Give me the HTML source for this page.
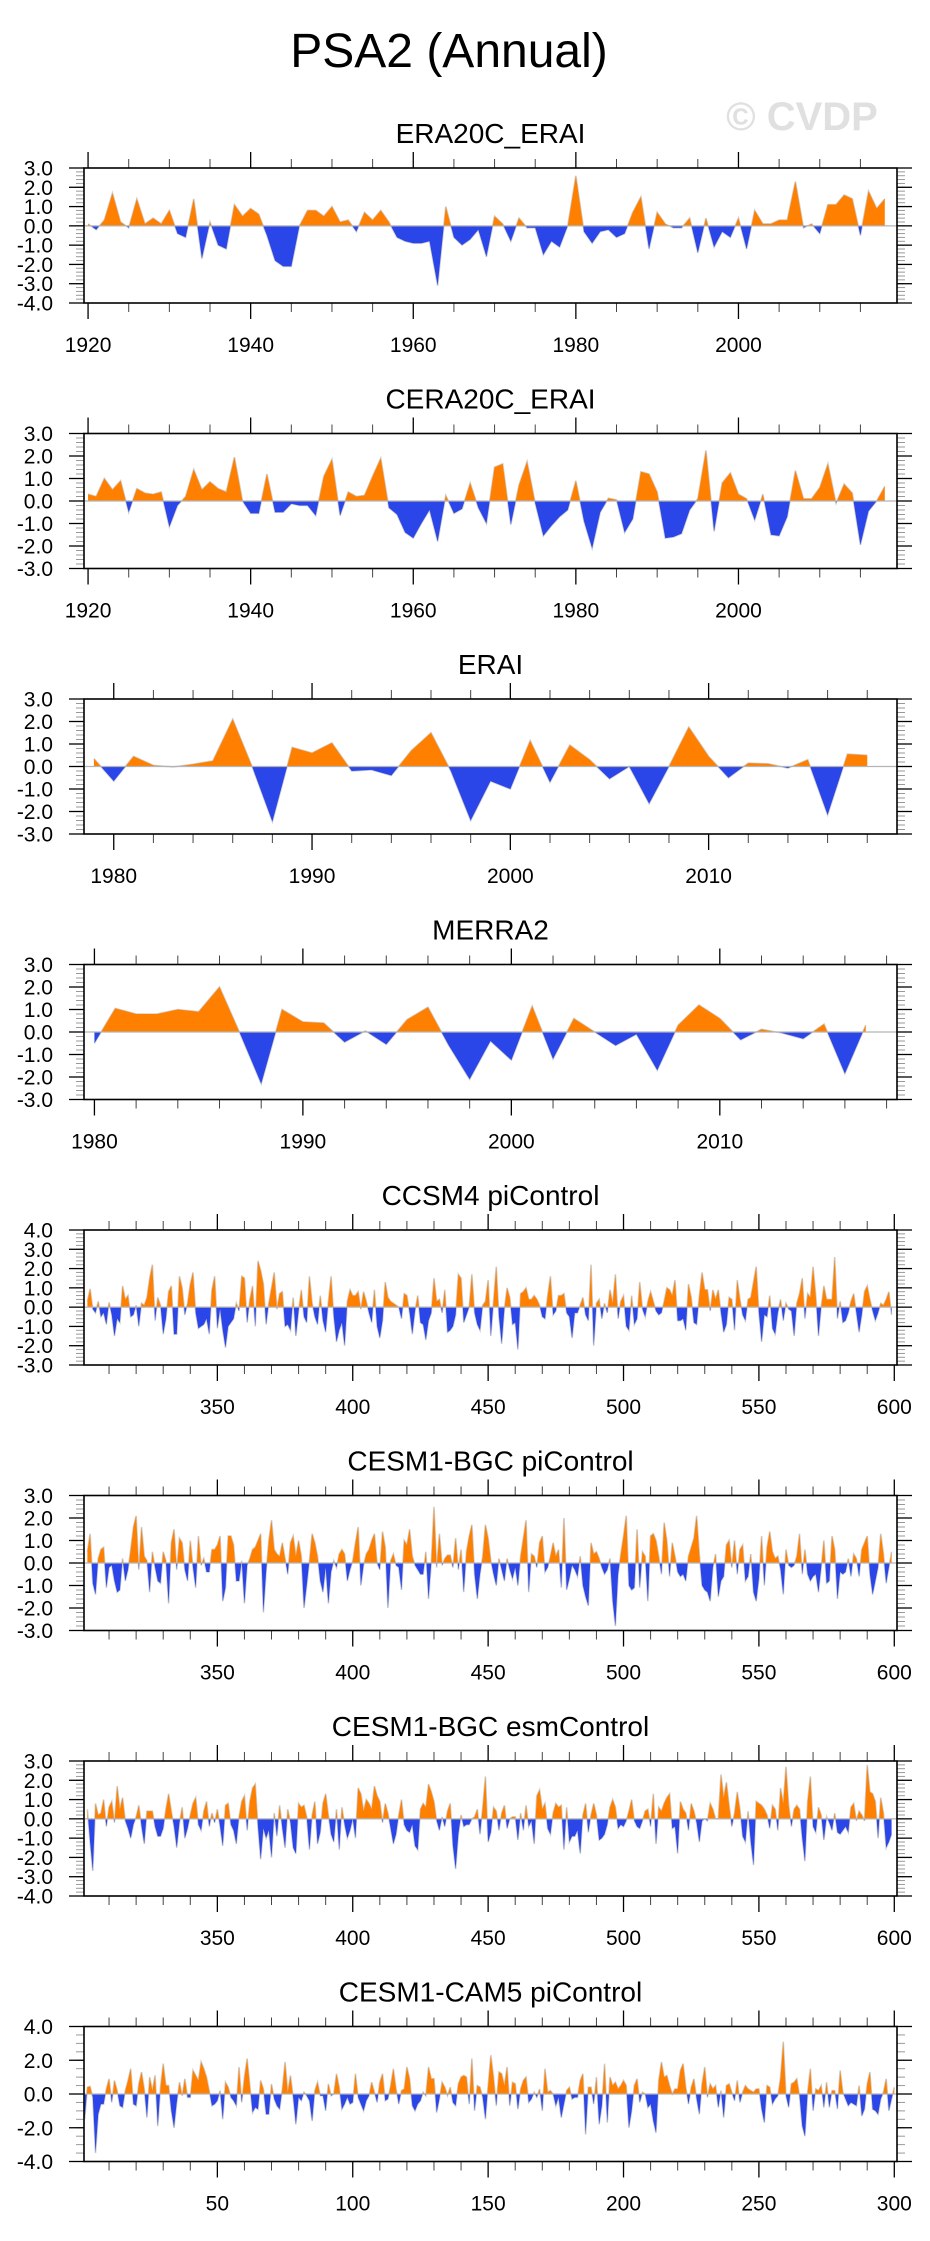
<!DOCTYPE html>
<html><head><meta charset="utf-8"><title>PSA2 (Annual)</title>
<style>
html,body{margin:0;padding:0;background:#fff;}
svg{display:block;font-family:"Liberation Sans",Arial,sans-serif;}
</style></head>
<body>
<svg id="chart" width="930" height="2241" viewBox="0 0 930 2241" xmlns="http://www.w3.org/2000/svg">
<text x="449" y="67" font-size="48" text-anchor="middle" fill="#000">PSA2 (Annual)</text>
<text x="802" y="130" font-size="40" font-weight="bold" text-anchor="middle" fill="#e0e0e0">© CVDP</text>
<g id="panels"></g>
</svg>
<script>
// ---- data ----
const era20cVals=[0.1,-0.2,0.3,1.7,0.2,-0.1,1.4,0.1,0.4,0.1,0.8,-0.4,-0.6,1.4,-1.7,0.2,-1.0,-1.2,1.1,0.5,0.9,0.6,-0.5,-1.8,-2.1,-2.1,0.0,0.8,0.8,0.5,1.0,0.2,0.3,-0.3,0.7,0.3,0.8,0.2,-0.6,-0.8,-0.9,-0.9,-0.8,-3.1,1.0,-0.6,-1.0,-0.7,-0.2,-1.6,0.5,0.1,-0.8,0.4,-0.1,-0.1,-1.5,-0.8,-1.1,0.0,2.6,-0.3,-0.9,-0.3,-0.2,-0.6,-0.4,0.7,1.5,-1.2,0.7,0.1,-0.1,-0.1,0.4,-1.4,0.4,-1.1,-0.3,-0.6,0.4,-1.2,0.8,0.1,0.1,0.3,0.3,2.3,-0.1,0.1,-0.4,1.1,1.1,1.6,1.4,-0.5,1.8,0.9,1.4];
const cera20cVals=[0.3,0.2,1.0,0.5,0.9,-0.5,0.55,0.35,0.3,0.4,-1.15,-0.2,0.2,1.4,0.5,0.85,0.55,0.4,1.95,0.0,-0.55,-0.55,1.2,-0.5,-0.5,-0.12,-0.2,-0.2,-0.65,1.1,1.85,-0.65,0.4,0.2,0.25,1.1,1.9,-0.3,-0.6,-1.4,-1.65,-1.0,-0.4,-1.8,0.25,-0.55,-0.35,0.8,-0.3,-1.0,1.5,1.65,-1.05,0.7,1.75,-0.1,-1.55,-1.1,-0.7,-0.4,0.9,-0.9,-2.1,-0.5,0.12,0.05,-1.4,-0.8,1.3,1.2,0.4,-1.65,-1.6,-1.45,-0.4,0.1,2.25,-1.35,0.8,1.25,0.3,0.1,-0.85,0.3,-1.5,-1.55,-0.7,1.35,0.1,0.1,0.6,1.65,-0.1,0.75,0.35,-1.95,-0.45,0.0,0.65];
const eraiVals=[0.35,-0.65,0.45,0.05,-0.02,0.1,0.25,2.1,-0.05,-2.45,0.85,0.6,1.05,-0.2,-0.15,-0.4,0.7,1.5,-0.2,-2.4,-0.65,-1.0,1.15,-0.7,0.95,0.3,-0.55,0.0,-1.65,0.0,1.75,0.45,-0.5,0.15,0.12,-0.07,0.3,-2.15,0.55,0.5];
const merra2Vals=[-0.5,1.05,0.8,0.8,1.0,0.9,2.0,-0.1,-2.3,1.0,0.45,0.4,-0.45,0.05,-0.55,0.55,1.1,-0.6,-2.1,-0.4,-1.25,1.15,-1.2,0.6,0.0,-0.6,-0.1,-1.7,0.3,1.2,0.6,-0.35,0.12,-0.05,-0.3,0.35,-1.85,0.3];
const ccsm4Vals=[0.3,0.95,-0.1,-0.3,0.3,-0.5,-0.3,-0.9,0.25,-0.4,-1.5,-0.6,-0.8,1.1,0.4,0.6,-0.5,-0.4,0.1,-1.0,0.2,0.1,0.5,1.5,2.2,-0.7,0.5,0.1,-1.4,-0.6,0.8,1.1,-1.4,-1.4,1.6,1.0,-0.4,0.2,1.2,1.8,-0.3,-1.1,-1.0,-0.9,-0.6,-1.4,0.9,1.6,-1.1,-0.1,-1.2,-2.1,-1.0,-0.8,-0.6,0.2,-0.2,1.6,1.5,-0.8,0.4,1.1,-1.0,2.4,1.9,1.2,-0.9,0.2,1.0,1.8,-0.1,0.7,0.8,-1.0,-0.9,-1.2,0.5,-1.5,-0.2,0.9,-0.5,-0.8,1.6,0.2,-0.5,-0.9,0.6,-0.7,-1.3,0.3,1.6,-0.5,-1.8,-1.2,-0.8,-2.0,0.3,0.9,0.6,0.6,0.8,-0.1,0.8,0.3,-0.3,-0.8,0.9,-1.0,-1.6,-0.7,1.3,0.5,0.3,0.2,0.1,0.0,-0.6,0.7,0.6,-0.3,-1.4,-0.2,0.6,-0.8,-0.9,-1.7,-0.7,-0.3,1.5,0.3,0.4,-0.3,0.9,-1.3,-1.2,-1.0,-0.4,1.7,1.5,-0.8,-0.4,0.0,1.7,-0.3,-0.9,-1.2,0.1,0.3,1.4,-1.5,0.3,2.1,-0.5,-1.9,-0.1,1.0,0.5,-0.9,-0.8,-2.2,0.7,0.8,1.0,0.4,0.4,0.6,0.4,0.1,-0.5,-0.6,0.6,1.6,-0.4,-0.2,0.6,0.6,0.7,-0.3,-0.5,-1.6,-0.3,-0.3,0.1,0.5,-0.4,-0.7,2.2,-2.0,0.2,0.4,-0.6,0.2,-0.3,0.9,0.2,1.7,-0.6,0.3,0.6,-1.0,-1.2,0.6,-0.9,-0.6,1.3,-0.1,-0.5,0.3,0.8,0.3,-0.2,-0.4,-0.3,0.3,1.0,0.9,0.6,1.4,-0.7,-0.7,-0.6,-1.2,1.2,0.5,-0.8,-0.9,0.6,1.8,0.9,0.9,-0.2,0.9,0.4,0.9,-0.3,-1.3,-0.9,0.5,0.4,-1.2,1.4,0.4,-0.4,-0.7,0.4,0.5,1.3,2.1,-0.3,-1.8,-0.4,-0.5,0.6,-1.1,-1.4,-0.3,0.4,-0.7,0.2,-0.1,-0.2,-1.5,0.2,0.7,1.5,-0.6,0.7,0.5,2.1,0.6,-1.5,0.0,1.1,0.4,0.4,0.4,2.6,-0.6,0.3,-0.8,-0.7,-0.3,0.3,0.7,-0.3,-1.3,-0.4,0.8,1.1,0.4,-0.2,-0.7,-0.3,0.2,0.1,0.4,0.8,-0.4];
const bgcPiVals=[0.5,1.3,-0.9,-1.4,0.2,0.6,0.7,-1.1,-0.2,-0.1,-0.8,-1.3,-1.2,0.2,-0.8,-0.3,0.6,1.6,2.1,-0.3,1.6,0.3,0.1,-1.3,0.5,-0.2,-0.8,-0.9,0.5,0.1,-1.8,0.9,1.5,-0.3,1.1,0.9,-0.3,-0.8,1.0,-0.2,-1.1,1.2,-0.1,0.2,-0.4,-0.4,0.6,0.6,0.8,1.2,-1.7,-1.1,1.2,1.2,0.8,-0.8,-0.8,0.1,-1.8,-0.1,0.2,0.6,0.7,1.0,1.3,-2.2,-0.4,1.0,1.9,0.6,0.4,0.3,0.9,0.2,-0.5,0.9,1.2,0.3,1.0,0.3,-2.0,-1.0,0.1,1.3,0.9,0.3,-0.8,-1.3,-0.2,-1.8,-0.4,0.1,-0.2,0.4,0.6,0.4,-0.8,-0.3,0.1,0.9,1.6,-1.0,-0.1,0.4,0.6,1.0,1.3,0.0,-0.3,1.4,0.7,-2.0,0.1,0.4,-0.1,-0.2,-1.2,1.0,0.8,1.5,0.3,-0.1,-0.3,-0.5,-0.5,0.5,-1.6,0.0,2.5,-0.2,1.3,-0.1,0.2,0.35,0.35,-0.2,1.1,-0.3,0.6,-1.3,0.5,1.2,1.7,-0.5,-1.6,-0.5,0.3,1.7,1.1,0.1,-0.5,-1.0,0.2,-0.3,-0.8,0.2,-0.3,-0.7,-0.2,-1.0,0.3,1.1,1.9,-1.3,0.4,0.3,-0.2,0.9,1.2,-0.4,-0.2,0.3,0.9,0.3,0.6,-1.1,2.0,-1.2,-0.7,-0.1,-0.3,-0.6,0.3,-1.0,-1.5,-1.9,0.9,0.4,0.5,0.2,-0.2,-0.5,-0.3,0.2,-1.7,-2.8,-0.5,0.4,1.2,2.1,-1.0,-1.2,-1.1,1.5,-1.1,0.5,0.3,-1.7,1.2,1.3,1.0,0.3,-0.5,1.8,1.0,-0.6,0.9,0.3,-0.4,-0.6,-0.5,-0.8,0.3,0.7,1.1,2.1,0.4,-1.0,-1.2,-1.3,-1.7,-0.2,0.4,-1.5,-0.8,-0.6,0.8,1.0,-0.2,1.0,-0.5,0.6,0.8,-0.8,-0.6,0.4,-1.3,-1.7,-0.7,1.2,-1.0,0.7,1.4,0.5,0.2,0.3,-0.3,-1.4,0.6,-0.1,-0.2,-0.1,0.3,1.3,-0.5,0.6,-0.5,-0.8,-0.6,-0.5,-1.3,-0.2,1.0,-0.9,-0.8,1.2,0.6,-1.6,-0.4,-0.5,-0.4,0.2,-0.6,0.4,0.2,-0.6,0.6,0.9,1.2,-0.5,-1.4,-0.8,-0.2,1.3,0.4,-0.9,-0.2,0.5];
const bgcEsmVals=[0.5,-1.2,-2.7,0.8,0.2,0.3,1.0,-0.4,0.6,0.9,-0.2,1.7,0.5,1.1,-0.1,-0.5,-1.0,-0.3,0.1,0.7,-0.4,-1.3,0.4,0.4,0.4,-0.4,-0.9,-0.9,-0.5,0.5,1.3,0.4,-0.4,-1.5,-0.2,0.6,-1.0,-0.5,0.2,0.8,1.1,-0.3,-0.6,0.4,0.9,-0.4,0.3,-0.2,0.5,-0.4,-1.4,0.7,0.8,-0.3,-0.6,-1.3,0.1,0.9,1.2,-0.6,0.9,1.6,1.8,-0.4,-2.1,-0.5,-1.0,-0.6,-2.0,0.3,-0.9,0.7,-0.5,-1.5,0.5,-0.2,-1.5,-1.8,0.8,0.6,0.7,0.1,-1.6,0.2,0.9,-1.3,-0.7,0.8,1.3,0.2,-0.8,-1.2,0.5,-1.6,0.6,-0.3,-1.0,-0.6,0.0,-1.0,1.6,1.3,0.4,1.0,0.8,0.5,1.7,1.2,0.9,-0.2,0.8,0.3,-0.5,-1.3,-0.8,0.2,1.0,-0.3,-0.6,-0.7,-0.3,-1.4,-1.6,0.5,0.8,0.6,1.8,1.4,0.9,-0.1,-0.6,0.1,-0.4,0.4,0.8,-1.4,-2.6,-0.8,0.2,-0.4,-0.3,-0.3,0.0,0.1,0.5,-0.8,0.6,2.2,-1.2,-0.7,0.6,0.4,-0.6,0.3,0.7,-0.5,0.0,0.1,0.1,-1.1,0.3,-0.6,0.7,-0.4,-0.1,-1.3,1.2,1.5,0.5,0.8,-0.5,-0.8,0.3,0.8,0.6,0.7,-1.6,0.6,-1.2,-0.9,-0.9,-0.6,-1.8,0.2,0.8,-0.7,0.2,0.8,0.2,-1.1,-1.0,-0.8,-0.3,0.6,1.0,0.6,-0.5,-0.3,-0.4,-0.1,0.4,1.0,-0.1,-0.4,-0.5,-0.1,0.4,0.5,-0.4,1.3,-1.3,0.6,0.4,0.8,1.1,1.3,-0.5,-0.4,-1.8,0.9,0.5,0.3,-0.6,0.8,0.4,-0.2,-1.2,-0.1,0.0,-0.1,0.8,0.5,0.0,0.0,2.3,1.1,1.9,0.7,-0.4,0.3,1.4,0.5,-0.9,-1.2,0.4,-1.2,-2.4,0.9,0.8,0.7,0.5,0.2,-0.5,0.7,0.5,-0.6,1.6,0.8,2.7,0.7,-0.4,0.5,0.7,0.5,-1.0,-2.2,0.9,2.2,-0.4,-0.7,0.6,0.2,-1.1,0.1,-0.2,-0.6,0.3,-0.7,-0.8,-0.6,-0.4,-0.7,0.6,0.8,-0.1,0.4,0.2,-0.1,2.8,1.4,1.3,0.9,-1.0,1.1,0.3,-1.5,-1.2,-0.8];
const cam5Vals=[-1.5,0.4,0.45,-0.2,-3.5,-1.2,-0.6,-0.6,0.3,0.9,-0.5,0.8,0.2,-0.7,-0.8,0.2,0.8,1.5,-0.6,-0.7,0.6,1.3,0.3,-1.4,1.0,0.2,1.1,-1.9,0.4,1.8,0.5,0.5,-1.0,-2.0,-0.5,0.7,-0.1,0.9,-0.2,-0.2,1.4,1.1,0.8,1.9,1.5,1.0,0.2,-0.7,-0.6,-0.4,0.2,-1.5,0.7,0.4,-0.2,-0.4,-0.7,1.6,-0.5,1.0,2.1,0.5,-1.1,-0.8,-0.9,0.8,0.3,-1.2,-1.2,0.6,-0.3,-0.7,-0.9,0.3,1.9,0.1,1.1,-0.2,-1.8,-0.2,-0.4,0.1,-0.1,-0.4,-1.6,0.2,0.7,-0.1,-0.1,-1.0,0.6,-0.1,0.0,1.2,0.4,-0.9,-0.6,-0.2,-0.6,-0.5,1.2,-0.2,-0.6,-1.0,-0.4,-0.1,0.7,0.1,-0.5,0.7,1.2,-0.4,-0.3,0.5,1.5,0.3,-0.6,0.2,0.3,1.6,0.9,-0.7,-1.0,-0.6,-0.4,0.1,-0.1,1.6,0.9,0.9,-1.1,-0.3,0.7,0.4,-0.1,0.4,-0.5,-0.7,0.6,1.0,1.1,1.0,-0.6,2.1,-1.0,0.5,0.4,-0.2,-1.5,0.5,2.3,1.0,-0.7,1.3,1.2,0.5,1.6,-0.7,0.7,0.6,-0.9,0.3,0.8,1.0,-0.5,-0.3,0.1,-0.2,0.3,-1.0,1.5,0.1,0.2,0.0,-0.7,-0.2,-1.4,-0.6,0.2,0.4,-0.3,-0.2,-0.2,0.8,1.2,-2.4,0.4,0.4,-0.6,1.0,-1.8,-0.7,1.8,-1.7,1.0,0.5,0.7,0.3,0.5,0.8,0.5,-2.0,-1.0,0.5,0.9,-0.5,0.1,0.0,-0.8,-0.6,-1.6,-2.3,0.8,1.9,1.0,1.1,0.5,0.0,0.3,0.3,1.4,1.8,0.4,-0.6,0.4,0.9,-0.3,-1.2,0.6,1.6,-0.2,0.6,0.3,0.5,-0.8,0.2,-1.4,0.5,0.6,0.1,-0.4,0.8,-0.5,0.1,0.5,0.3,0.2,0.1,0.3,0.3,-0.9,-1.7,0.5,0.4,-0.6,-0.3,-0.1,1.0,3.1,-0.1,-0.8,0.6,0.7,0.9,-0.1,-1.9,-2.5,0.1,1.5,-1.0,0.3,0.2,0.5,-0.8,0.7,-0.8,0.2,0.2,-0.9,1.4,0.1,-0.3,-0.7,-0.5,-0.6,-0.7,0.5,-1.3,-0.9,0.6,1.3,-0.9,-1.0,-1.2,-0.3,0.1,0.9,-1.0,-0.3,0.4];

const panelTitles=["ERA20C_ERAI","CERA20C_ERAI","ERAI","MERRA2","CCSM4 piControl","CESM1-BGC piControl","CESM1-BGC esmControl","CESM1-CAM5 piControl"];
const panelStartYears=[1920,1920,1979,1980,302,302,302,1];
const xTickLabels=[[1920,1940,1960,1980,2000],[1920,1940,1960,1980,2000],[1980,1990,2000,2010],[1980,1990,2000,2010],[350,400,450,500,550,600],[350,400,450,500,550,600],[350,400,450,500,550,600],[50,100,150,200,250,300]];
const yTickLabels=[[3,2,1,0,-1,-2,-3,-4],[3,2,1,0,-1,-2,-3],[3,2,1,0,-1,-2,-3],[3,2,1,0,-1,-2,-3],[4,3,2,1,0,-1,-2,-3],[3,2,1,0,-1,-2,-3],[3,2,1,0,-1,-2,-3,-4],[4,2,0,-2,-4]];
const seriesVals=[era20cVals,cera20cVals,eraiVals,merra2Vals,ccsm4Vals,bgcPiVals,bgcEsmVals,cam5Vals];

// ---- layout (not data) ----
const layout=[
 {dom:[1919.5,2019.5],xMinor:5,yMinor:0.2},
 {dom:[1919.5,2019.5],xMinor:5,yMinor:0.2},
 {dom:[1978.5,2019.5],xMinor:2,yMinor:0.2},
 {dom:[1979.5,2018.5],xMinor:2,yMinor:0.2},
 {dom:[300.75,601],xMinor:10,yMinor:0.2},
 {dom:[300.75,601],xMinor:10,yMinor:0.2},
 {dom:[300.75,601],xMinor:10,yMinor:0.2},
 {dom:[0.75,301],xMinor:10,yMinor:0.5}
];
const BL=84,BR=897,BH=135;
const NS="http://www.w3.org/2000/svg";
const root=document.getElementById('panels');
function mk(tag,attrs,parent){const e=document.createElementNS(NS,tag);for(const k in attrs)e.setAttribute(k,attrs[k]);(parent||root).appendChild(e);return e;}
function slug(s){return s.toLowerCase().replace(/[^a-z0-9]+/g,'-').replace(/-$/,'');}

panelTitles.forEach((title,k)=>{
  const L=layout[k];
  const top=168+265.5*k;
  const yt=yTickLabels[k];
  const ymax=yt[0],ymin=yt[yt.length-1];
  const xS=v=>BL+(v-L.dom[0])/(L.dom[1]-L.dom[0])*(BR-BL);
  const yS=v=>top+(ymax-v)/(ymax-ymin)*BH;
  const g=mk('g',{});
  
  
  const t=mk('text',{x:(BL+BR)/2,y:top-25,'font-size':28,'text-anchor':'middle',fill:'#000'},g);
  
  
  t.textContent=title;

  // series
  const vals=seriesVals[k],y0=panelStartYears[k];
  const z=yS(0);
  let pts=vals.map((v,i)=>xS(y0+i).toFixed(2)+','+yS(v).toFixed(2));
  const x0=xS(y0),x1=xS(y0+vals.length-1);
  const poly=x0.toFixed(2)+','+z+' '+pts.join(' ')+' '+x1.toFixed(2)+','+z;
  const cid='clip'+k;
  const defs=mk('defs',{},g);
  const cpA=mk('clipPath',{id:cid+'a'},defs);mk('rect',{x:BL,y:top,width:BR-BL,height:z-top},cpA);
  const cpB=mk('clipPath',{id:cid+'b'},defs);mk('rect',{x:BL,y:z,width:BR-BL,height:top+BH-z},cpB);
  const ln=mk('polyline',{points:pts.join(' '),fill:'none',stroke:'#cfcfcf','stroke-width':1.6},g);
  
  
  const pa=mk('polygon',{points:poly,fill:'#ff8000','clip-path':'url(#'+cid+'a)'},g);
  
  
  const pb=mk('polygon',{points:poly,fill:'#2a45e8','clip-path':'url(#'+cid+'b)'},g);
  
  
  const zl=mk('line',{x1:BL,x2:BR,y1:z,y2:z,stroke:'#b4b4b4','stroke-width':1.3},g);
  
  

  // y ticks
  const yax=mk('g',{},g);
  
  
  const nMin=Math.round((ymax-ymin)/L.yMinor);
  for(let j=0;j<=nMin;j++){
    const v=ymax-j*L.yMinor, y=yS(v);
    mk('line',{x1:BL-8,x2:BL,y1:y,y2:y,stroke:'#999','stroke-width':1},yax);
    mk('line',{x1:BR,x2:BR+8,y1:y,y2:y,stroke:'#999','stroke-width':1},yax);
  }
  yt.forEach(v=>{
    const y=yS(v);
    mk('line',{x1:BL-15,x2:BL,y1:y,y2:y,stroke:'#000','stroke-width':1.3},yax);
    mk('line',{x1:BR,x2:BR+15,y1:y,y2:y,stroke:'#000','stroke-width':1.3},yax);
    const tl=mk('text',{x:53,y:y+7.5,'font-size':21,'text-anchor':'end',fill:'#000'},yax);
    
    
    tl.textContent=v.toFixed(1);
  });

  // x ticks
  const xax=mk('g',{},g);
  
  
  const xs=Math.ceil(L.dom[0]/L.xMinor)*L.xMinor;
  const maj=xTickLabels[k];
  const step=maj[1]-maj[0];
  for(let v=xs;v<=L.dom[1];v+=L.xMinor){
    const x=xS(v); const isMaj=(Math.abs(v/step-Math.round(v/step))<1e-6);
    const len=isMaj?16:9;
    mk('line',{x1:x,x2:x,y1:top-len,y2:top,stroke:isMaj?'#000':'#444','stroke-width':isMaj?1.3:1},xax);
    mk('line',{x1:x,x2:x,y1:top+BH,y2:top+BH+len,stroke:isMaj?'#000':'#444','stroke-width':isMaj?1.3:1},xax);
  }
  maj.forEach(v=>{
    const tl=mk('text',{x:xS(v),y:top+184,'font-size':21,'text-anchor':'middle',fill:'#000'},xax);
    
    
    tl.textContent=String(v);
  });

  const bx=mk('rect',{x:BL,y:top,width:BR-BL,height:BH,fill:'none',stroke:'#000','stroke-width':1.6},g);
  
  
});
</script>
</body></html>
